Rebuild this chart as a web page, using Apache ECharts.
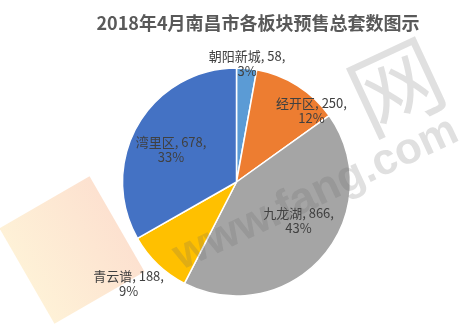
<!DOCTYPE html>
<html>
<head>
<meta charset="utf-8">
<script src="https://cdn.jsdelivr.net/npm/echarts@6/dist/echarts.min.js"></script>
<style>
  html, body { margin: 0; padding: 0; background: #ffffff; }
  #chart { width: 475px; height: 328px; }
</style>
</head>
<body>
<div id="chart"></div>
<script>
// Pre-sale housing units by district, Nanchang, April 2018
const titleText = '2018年4月南昌市各板块预售总套数图示';
const districts = ['朝阳新城', '经开区', '九龙湖', '青云谱', '湾里区'];
const units = [58, 250, 866, 188, 678];
const sliceColors = ['#5B9BD5', '#ED7D31', '#A5A5A5', '#FFC000', '#4472C4'];

// label placement: [distance as fraction of radius, angular nudge in degrees]
const labelPlacement = [[1.04, 0], [0.91, 14], [0.64, -9], [1.30, 3], [0.64, -4]];

const CX = 236.5, CY = 182, R = 114;

const chart = echarts.init(document.getElementById('chart'), null, { renderer: 'canvas' });

const total = units.reduce((a, b) => a + b, 0);
const midAngles = [];
{
  let acc = 0;
  units.forEach(v => {
    midAngles.push((acc + v / 2) / total * 360);
    acc += v;
  });
}

chart.setOption({
  backgroundColor: '#ffffff',
  title: {
    text: titleText,
    left: 253,
    textAlign: 'center',
    top: 9,
    textStyle: {
      fontFamily: 'Noto Sans CJK SC',
      fontSize: 18,
      fontWeight: 'bold',
      color: '#595959'
    }
  },
  graphic: [
    {
      type: 'rect',
      x: 72, y: 250,
      rotation: Math.PI / 6,
      shape: { x: -52, y: -55, width: 104, height: 110 },
      style: {
        fill: new echarts.graphic.LinearGradient(0, 0, 1, 0, [
          { offset: 0, color: 'rgba(252,215,140,0.35)' },
          { offset: 1, color: 'rgba(248,170,120,0.35)' }
        ])
      },
      z: 0
    },
    {
      type: 'text',
      x: 396, y: 86,
      rotation: 25 * Math.PI / 180,
      style: {
        text: '网',
        font: '92px "Noto Sans CJK SC"',
        fill: 'rgba(100,100,100,0.2)',
        align: 'center',
        verticalAlign: 'middle'
      },
      z: 50
    },
    {
      type: 'text',
      x: 316, y: 194,
      rotation: 25 * Math.PI / 180,
      style: {
        text: 'www.fang.com',
        font: 'bold 44px "Liberation Sans"',
        fill: 'rgba(100,100,100,0.2)',
        align: 'center',
        verticalAlign: 'middle'
      },
      z: 50
    }
  ],
  series: [{
    type: 'pie',
    center: [CX, CY],
    radius: R,
    startAngle: 90,
    clockwise: true,
    percentPrecision: 0,
    avoidLabelOverlap: false,
    itemStyle: { borderColor: '#ffffff', borderWidth: 1.5 },
    label: {
      show: true,
      position: 'inside',
      formatter: '{b}, {c},\n{d}%',
      fontFamily: 'Noto Sans CJK SC',
      fontSize: 13,
      lineHeight: 15,
      color: '#404040',
      align: 'center'
    },
    labelLine: { show: false },
    labelLayout: function (params) {
      const i = params.dataIndex;
      const p = labelPlacement[i];
      const a = (midAngles[i] + p[1]) * Math.PI / 180;
      return {
        x: CX + Math.sin(a) * R * p[0],
        y: CY - Math.cos(a) * R * p[0],
        align: 'center',
        verticalAlign: 'middle'
      };
    },
    emphasis: { disabled: true },
    animation: false,
    data: districts.map((n, i) => ({
      name: n,
      value: units[i],
      itemStyle: { color: sliceColors[i] }
    }))
  }]
});
</script>
</body>
</html>
